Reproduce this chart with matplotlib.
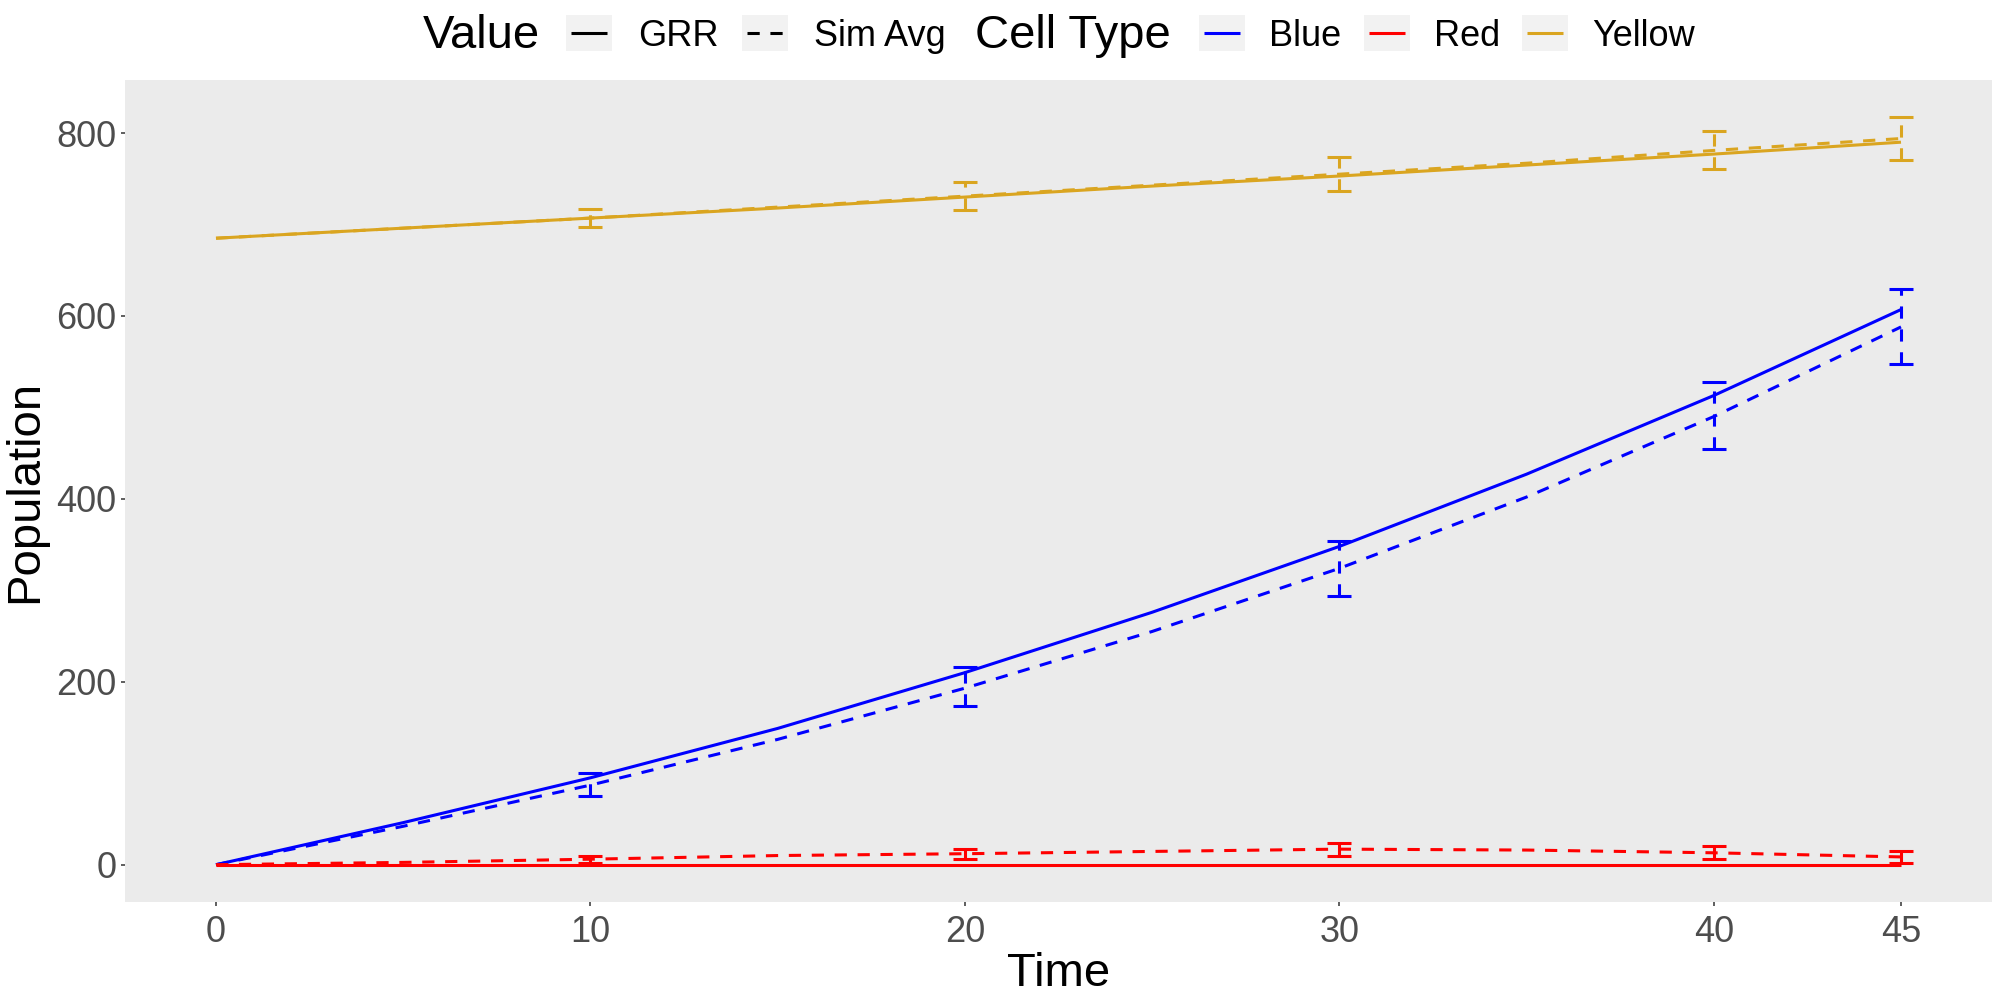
import numpy as np
import matplotlib
matplotlib.use("Agg")
import matplotlib.pyplot as plt
from matplotlib.patches import Rectangle
from matplotlib.lines import Line2D

plt.rcParams['font.family'] = ['Liberation Sans', 'DejaVu Sans']

# population, every 5 time steps
time = [0, 5, 10, 15, 20, 25, 30, 35, 40, 45]
blue_grr = [0, 46, 95, 149, 210, 276, 348, 427, 513, 607]
blue_sim = [0, 42, 87, 137, 193, 255, 324, 402, 490, 588]
red_grr = [0, 0, 0, 0, 0, 0, 0, 0, 0, 0]
red_sim = [0, 2.5, 6, 10, 12, 14.5, 17, 16, 13, 8.5]
yellow_grr = [685, 696, 707, 718, 730, 742, 753, 765, 777, 790]
yellow_sim = [685, 696, 707, 719, 731, 743, 755, 767, 781, 794]

# error bars of the simulation average
err_time = [10, 20, 30, 40, 45]
blue_lo = [75, 174, 294, 454, 547]
blue_hi = [100, 216, 354, 528, 630]
red_lo = [2, 6.5, 10, 6, 2]
red_hi = [10, 17.5, 24, 20, 15]
yellow_lo = [697, 716, 737, 761, 771]
yellow_hi = [717, 747, 774, 802, 817]

cell_types = ['Blue', 'Red', 'Yellow']
colors = {'Blue': '#0000FF', 'Red': '#FF0000', 'Yellow': '#DAA520'}
series = {
    'Blue': (blue_grr, blue_sim, blue_lo, blue_hi),
    'Red': (red_grr, red_sim, red_lo, red_hi),
    'Yellow': (yellow_grr, yellow_sim, yellow_lo, yellow_hi),
}

W, H = 2000, 1000
LW = 2.2
DASH = (0, (4, 3.5))

fig = plt.figure(figsize=(20, 10), dpi=100)
ax = fig.add_axes([125 / W, 98 / H, 1867 / W, 822 / H])
ax.set_facecolor('#EBEBEB')
for s in ax.spines.values():
    s.set_visible(False)

for ct in cell_types:
    grr, sim, lo, hi = series[ct]
    c = colors[ct]
    ax.plot(time, grr, color=c, lw=LW, solid_capstyle='butt')
    ax.plot(time, sim, color=c, lw=LW, linestyle=DASH)
    mid = [(a + b) / 2 for a, b in zip(lo, hi)]
    yerr = [np.subtract(mid, lo), np.subtract(hi, mid)]
    eb = ax.errorbar(err_time, mid, yerr=yerr, fmt='none', ecolor=c,
                     elinewidth=LW, capsize=8.6, capthick=LW)
    eb.lines[2][0].set_linestyle(DASH)

ax.set_xlim(-2.43, 47.43)
ax.set_ylim(-40.8, 858)
ax.set_xticks([0, 10, 20, 30, 40, 45])
ax.set_yticks([0, 200, 400, 600, 800])
ax.tick_params(axis='both', length=3, width=1.1, color='#333333',
               labelcolor='#4D4D4D', labelsize=26)
ax.tick_params(axis='x', pad=6)
ax.tick_params(axis='y', pad=3)
ax.set_xlabel('Time', fontsize=34, labelpad=2)
ax.set_ylabel('Population', fontsize=34, labelpad=7)

# legend along the top, ggplot style: title then keys in one row
renderer = fig.canvas.get_renderer()
yc = H - 33
items = [
    ('title', 'Value', None, 26),
    ('key', 'black', '-', 26),
    ('label', 'GRR', None, 23),
    ('key', 'black', DASH, 26),
    ('label', 'Sim Avg', None, 30),
    ('title', 'Cell Type', None, 28),
    ('key', colors['Blue'], '-', 24),
    ('label', 'Blue', None, 23),
    ('key', colors['Red'], '-', 24),
    ('label', 'Red', None, 22),
    ('key', colors['Yellow'], '-', 24),
    ('label', 'Yellow', None, 0),
]
sizes = {'title': 34, 'label': 26}


def text_width(s, size):
    t = fig.text(0, 0, s, fontsize=size)
    w = t.get_window_extent(renderer).width
    t.remove()
    return w


total = 0
for kind, val, _, gap in items:
    total += (46 if kind == 'key' else text_width(val, sizes[kind])) + gap

x = 1059 - total / 2
for kind, val, ls, gap in items:
    if kind == 'key':
        fig.add_artist(Rectangle((x / W, (yc - 18) / H), 46 / W, 36 / H,
                                 transform=fig.transFigure,
                                 facecolor='#F2F2F2', edgecolor='none'))
        fig.add_artist(Line2D([(x + 5) / W, (x + 41) / W], [yc / H, yc / H],
                              transform=fig.transFigure, color=val,
                              linestyle=ls, lw=LW, solid_capstyle='butt'))
        x += 46 + gap
    else:
        t = fig.text(x / W, (yc - 3) / H, val, fontsize=sizes[kind],
                     ha='left', va='center', color='black')
        x += t.get_window_extent(renderer).width + gap

fig.savefig('out.png', dpi=100)
